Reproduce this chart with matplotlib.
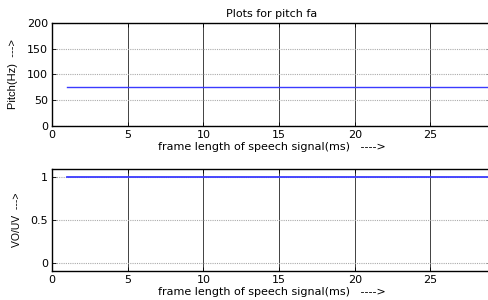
import matplotlib
matplotlib.use("Agg")
import matplotlib.pyplot as plt
import numpy as np

plt.rcParams['font.family'] = ['DejaVu Sans']

frames = list(range(1, 30))
pitch = [75] * len(frames)
vouv = [1] * len(frames)
xticks = [0, 5, 10, 15, 20, 25]
pitch_ticks = [0, 50, 100, 150, 200]
vouv_ticks = [0, 0.5, 1]

fig = plt.figure(figsize=(4.89, 3.0), dpi=100)
W, H = 489, 300

def make_ax(left, top, right, bottom):
    return fig.add_axes([left / W, 1 - bottom / H, (right - left) / W, (bottom - top) / H])

ax1 = make_ax(52, 23, 491, 126)
ax2 = make_ax(52, 169, 491, 271)

for ax in (ax1, ax2):
    ax.set_xlim(0, 29)
    ax.set_xticks(xticks)
    ax.tick_params(direction='in', length=3, labelsize=8, width=0.6, pad=3,
                   top=True, right=True)
    ax.xaxis.grid(True, color='#222222', linewidth=0.6, linestyle='-')
    ax.yaxis.grid(True, color='#aaaaaa', linewidth=0.8, linestyle=(0, (1, 1)))
    ax.set_axisbelow(True)
    for s in ax.spines.values():
        s.set_linewidth(1.0)
    ax.set_xlabel('frame length of speech signal(ms)   ---->', fontsize=8, labelpad=1)

ax1.plot(frames, pitch, color='#3b3bff', linewidth=1.0)
ax1.set_ylim(0, 200)
ax1.set_yticks(pitch_ticks)
ax1.set_ylabel('Pitch(Hz)  --->', fontsize=8, family='Liberation Sans', labelpad=6)
ax1.set_title('Plots for pitch fa', fontsize=8, pad=4)

ax2.plot(frames, vouv, color='#3b3bff', linewidth=1.3)
ax2.set_ylim(-0.093, 1.09)
ax2.set_yticks(vouv_ticks)
ax2.set_yticklabels(['0', '0.5', '1'])
ax2.set_ylabel('VO/UV  --->', fontsize=7.5, family='Liberation Sans', labelpad=6)

fig.savefig('out.png', dpi=100)
